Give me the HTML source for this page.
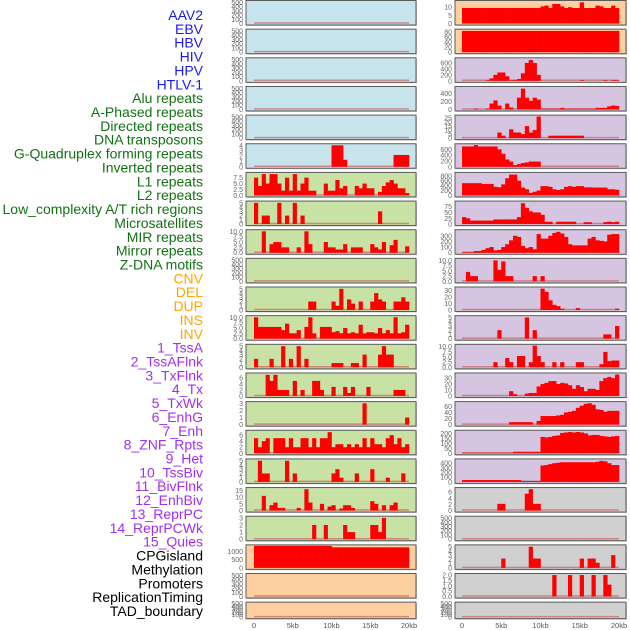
<!DOCTYPE html>
<html><head><meta charset="utf-8">
<style>
html,body{margin:0;padding:0;background:#fff;}
svg{display:block;font-family:"Liberation Sans",sans-serif;}
</style></head>
<body>
<svg id="chart" width="630" height="630" viewBox="0 0 630 630" xmlns="http://www.w3.org/2000/svg">
<g id="labels"></g>
<g id="panels"></g>
<g id="xaxes"></g>
</svg>
<script>
// ---------- data ----------
const trackNames = ["AAV2","EBV","HBV","HIV","HPV","HTLV-1","Alu repeats","A-Phased repeats","Directed repeats","DNA transposons","G-Quadruplex forming repeats","Inverted repeats","L1 repeats","L2 repeats","Low_complexity A/T rich regions","Microsatellites","MIR repeats","Mirror repeats","Z-DNA motifs","CNV","DEL","DUP","INS","INV","1_TssA","2_TssAFlnk","3_TxFlnk","4_Tx","5_TxWk","6_EnhG","7_Enh","8_ZNF_Rpts","9_Het","10_TssBiv","11_BivFlnk","12_EnhBiv","13_ReprPC","14_ReprPCWk","15_Quies","CPGisland","Methylation","Promoters","ReplicationTiming","TAD_boundary"];
const trackGroups = ["v","v","v","v","v","v","r","r","r","r","r","r","r","r","r","r","r","r","r","s","s","s","s","s","c","c","c","c","c","c","c","c","c","c","c","c","c","c","c","o","o","o","o","o"];
const xTickValues = [0,5,10,15,20];
const xTickLabels = ["0","5kb","10kb","15kb","20kb"];

const T500=["0","100","200","300","400","500"], T4=["0","1","2","3","4"], T75=["0.0","2.5","5.0","7.5"],
T5=["0","1","2","3","4","5"], T10=["0.0","2.5","5.0","7.5","10.0"], T7=["0","2","4","6"], T3=["0","1","2","3"],
T15=["0","5","10","15"], T1000=["0","500","1000"], T12=["0","5","10"], T80=["0","20","40","60","80"],
T600=["0","200","400","600"], T400=["0","200","400"], T25=["0","5","10","15","20","25"], T800=["0","200","400","600","800"],
T75b=["0","25","50","75"], T300=["0","100","200","300"], T30=["0","10","20","30"], T60=["0","20","40","60"],
T200=["0","50","100","150","200"], T400b=["0","100","200","300","400"], T2=["0.0","0.5","1.0","1.5","2.0"];

// left column panels (22 rows)
const leftBg = ["b","b","b","b","b","b","g","g","g","g","g","g","g","g","g","g","g","g","g","o","o","o"];
const leftMax = [520,520,520,520,520,4.1,9.3,5.2,10.3,520,5.2,10.3,5.2,7.3,3.1,7.3,5.2,16.5,3.1,1330,520,520];
const leftTicks = [T500,T500,T500,T500,T500,T4,T75,T5,T10,T500,T5,T10,T5,T7,T3,T7,T5,T15,T3,T1000,T500,T500];
const leftBins = [
 [],[],[],[],[],
 [[20,4],[21,4],[22,4],[23,1.3],[36,2.2],[37,2.2],[38,2.2],[39,2.2]],
 [7.5,4,9,5,9,9,5,2,7.5,2,9,2,5,7.5,2,2,0,0,5,2,2,6.5,3,4,0,0,4,3,5,3,3,0,1.5,4,5.5,6.5,5,3,3,1],
 [[0,5],[2,2],[3,2],[6,5],[8,2],[10,5],[12,2],[32,3]],
 [[2,10],[4,4],[5,5],[6,5],[7,2.5],[8,2.5],[11,2.5],[13,10],[14,4],[18,5],[19,2.5],[20,2.5],[21,1.5],[22,1.5],[23,4],[25,2.5],[26,2.5],[27,2.5],[30,4],[31,2.5],[32,1.5],[33,5],[35,3.5],[36,6],[39,3]],
 [],
 [[14,2],[15,2],[20,2],[21,1],[22,5],[24,2.5],[25,1.5],[27,2],[30,2],[31,4],[32,2.5],[33,2],[36,2],[37,2],[38,3],[39,2]],
 [10,5.5,5.5,5.5,5.5,5.5,5.5,4,7,2.5,2.5,4,0,5.5,10,2.5,0,5.5,5.5,5.5,3,3.5,2.5,5,2.5,3,2.5,6.5,2.5,3,3,2.5,5,2.5,4,2.5,10,2.5,3,6.5],
 [[0,2],[4,2],[7,5],[9,2],[11,5],[13,2],[20,1],[21,1],[22,1],[25,1],[26,1],[28,3],[32,3],[33,5],[34,3],[35,3]],
 [[3,7],[4,5],[5,7],[6,2],[7,2],[8,2],[10,5],[12,2],[15,5],[16,5],[17,2],[20,3],[23,3],[24,1],[25,3],[29,3],[36,2],[37,2],[38,2]],
 [[28,3],[39,1]],
 [5,2,4,5,0,5,5,5,2,5,2,2,5,5,2,5,2,5,5,7,2,3,3,2,3,2,3,2,5,2,5,3,3,2,5,6,3,5,2,3],
 [[1,5],[2,2],[3,2],[8,5],[10,2],[20,2],[21,3],[22,1],[26,2],[30,3],[34,1],[38,2]],
 [[2,11],[4,4],[5,6],[6,2],[7,2],[11,2],[13,16],[14,6],[17,5],[19,3],[20,4],[22,1.5],[23,4],[24,4],[25,2],[30,7],[31,5],[33,4],[35,4],[36,6]],
 [[15,2],[18,2],[23,2],[24,1],[25,1],[30,2],[31,2],[32,1],[33,3]],
 [1330,1330,1330,1330,1330,1330,1330,1330,1330,1330,1330,1330,1330,1330,1330,1330,1330,1330,1330,1330,1240,1240,1240,1240,1240,1240,1240,1240,1240,1240,1240,1240,1240,1240,1240,1240,1240,1240,1240,1240],
 [],[]
];

// right column panels (22 rows)
const rightBg = ["o","o","p","p","p","p","p","p","p","p","p","p","p","p","p","p","p","g2","g2","g2","g2","g2"];
const rightMax = [13.5,88,740,560,27.5,760,900,95,390,10.5,34,5.2,10.7,37,72,222,470,7.2,520,5.2,2.05,520];
const rightTicks = [T12,T80,T600,T400,T25,T600,T800,T75b,T300,T10,T30,T5,T10,T30,T60,T200,T400b,T7,T500,T5,T2,T500];
const rightBins = [
 [9.5,9.5,9.5,9.5,9.5,9.5,9.5,9.5,9.5,9.5,9.5,9.5,9.5,9.5,9.5,9.5,9.5,9.5,9.5,9.5,10.5,11,9.5,12,12,10.5,9.5,10,9.5,9.5,13,9.5,9.5,9.5,11,10.5,9.5,9.5,11,9.5],
 [85,85,85,85,85,85,85,85,85,85,85,85,85,85,85,85,85,85,85,85,85,85,85,85,85,85,85,85,85,85,85,85,85,85,85,85,85,85,85,85],
 [[6,20],[7,80],[8,200],[9,280],[10,280],[11,150],[12,20],[13,30],[14,60],[15,250],[16,600],[17,700],[18,600],[19,200],[30,20],[36,20],[38,20],[39,20]],
 [0,0,0,20,0,0,20,150,230,100,0,150,50,0,300,530,300,220,300,250,20,20,20,20,20,40,20,20,20,20,20,20,20,20,40,40,40,80,100,90],
 [[9,7],[10,3],[12,11],[13,7],[14,7],[15,5],[16,15],[17,7],[18,10],[19,27],[22,3],[23,3],[24,3],[25,3],[26,3],[27,3],[28,3],[29,3],[30,3]],
 [700,700,700,750,700,700,700,700,700,600,450,250,180,60,90,130,150,180,180,180,0,0,0,0,0,0,0,0,0,0,0,0,0,0,0,0,0,0,0,0],
 [500,500,500,500,500,470,470,470,350,330,450,700,850,850,600,320,250,100,150,200,380,380,350,250,220,250,350,380,350,380,380,330,330,320,320,320,320,250,250,230],
 [30,25,15,15,15,15,15,15,20,20,20,20,20,20,30,90,70,55,50,50,40,10,10,0,10,10,10,10,10,0,0,8,8,0,0,0,8,10,8,10],
 [10,10,10,30,30,50,80,100,40,50,100,150,220,300,280,120,80,100,60,330,250,250,300,350,370,340,280,150,130,130,130,130,250,280,220,210,200,320,330,330],
 [[1,4.5],[2,2.5],[3,2.5],[8,10],[9,5.5],[10,9.5],[11,2.5],[12,2.5],[18,2.5],[20,2.5]],
 [[20,33],[21,28],[22,15],[23,8],[24,6],[25,2],[29,3],[39,2]],
 [[9,2],[16,5],[18,2],[36,1],[37,1],[39,3]],
 [[8,2.5],[11,4.5],[12,2.5],[14,5.5],[15,5.5],[17,2.5],[18,10.5],[19,5.5],[20,2.5],[23,2.5],[25,2.5],[29,2.5],[30,2.5],[35,1.5],[36,7.5],[37,3],[38,3.3],[39,3.3]],
 [0,0,0,0,0,0,0,0,0,0,0,0,8,3,0,0,4,5,5,16,20,22,25,25,20,22,21,18,12,18,15,8,12,12,10,25,30,32,30,36],
 [0,0,0,0,0,0,0,0,0,0,0,0,8,8,8,8,8,8,0,12,28,28,28,28,30,32,40,42,45,55,62,68,70,65,50,48,42,45,45,45],
 [5,5,5,5,5,5,5,5,5,5,5,5,5,15,15,15,15,15,15,15,165,160,165,175,180,205,210,215,210,215,210,200,180,185,185,175,170,165,170,175],
 [40,40,40,40,40,40,40,40,40,40,40,40,40,40,40,20,20,20,20,20,350,360,380,400,410,420,420,420,420,420,420,420,420,420,430,450,440,400,360,360],
 [[9,2.2],[10,2.2],[16,5.5],[17,7],[18,2.2],[19,2.2]],
 [],
 [[10,2.2],[17,5],[18,2.2],[19,2.2],[30,2.2],[32,2.2],[33,2.2],[34,1.2],[38,3]],
 [[23,2],[27,2],[30,2],[33,2],[36,2],[37,1.1]],
 []
];

// ---------- layout ----------
const NS="http://www.w3.org/2000/svg";
const bgColors={b:"#c7e4ec",g:"#c8e1a5",o:"#fed0a0",p:"#d5c5e1",g2:"#d0d0d0"};
const groupColors={v:"#1a1aee",r:"#127212",s:"#ffa500",c:"#a030ee",o:"#000000"};
const ROW0=0.5, PITCH=28.65, PH=24.5, LASTH=16.5;
const cols=[{bx:246,bw:170,x0:254,x1:409,tickX:243},{bx:455,bw:171,x0:462,x1:619,tickX:452}];
const BINKB=0.5, XMAXKB=20;
function el(tag,attrs,parent){const e=document.createElementNS(NS,tag);for(const k in attrs)e.setAttribute(k,attrs[k]);parent.appendChild(e);return e;}
function xScale(col,kb){return col.x0+(col.x1-col.x0)*kb/XMAXKB;}

const labelsG=document.getElementById('labels');
trackNames.forEach((n,i)=>{
  const t=el('text',{x:203,y:20+13.86*i,'text-anchor':'end','font-size':'14',fill:groupColors[trackGroups[i]]},labelsG);
  
  
  t.textContent=n;
});

const panelsG=document.getElementById('panels');
function drawPanel(col,row,bg,maxV,ticks,bins){
  const top=ROW0+PITCH*row, h=(row===21?LASTH:PH), bottom=top+h;
  const g=el('g',{},panelsG);
  
  
  el('rect',{x:col.bx+1,y:top+1,width:col.bw,height:h,fill:'#999',opacity:0.5},g);
  const r=el('rect',{x:col.bx,y:top,width:col.bw,height:h,fill:bgColors[bg],stroke:'#5a5a5a','stroke-width':1},g);
  
  
  const y0=bottom-1.5, yT=top+1;
  const yScale=v=>y0-(y0-yT)*Math.min(v,maxV)/maxV;
  // baseline
  el('line',{x1:xScale(col,0),x2:xScale(col,20),y1:y0-0.5,y2:y0-0.5,stroke:'#c86464','stroke-width':1.5,opacity:0.7},g);
  // bars
  const pairs = (bins.length && Array.isArray(bins[0])) ? bins : bins.map((v,i)=>[i,v]);
  pairs.forEach(([b,v])=>{
    if(!v)return;
    const xa=xScale(col,b*BINKB), xb=xScale(col,(b+1)*BINKB);
    const bar=el('rect',{x:xa,y:yScale(v),width:xb-xa+0.3,height:y0-yScale(v),fill:'#ff0000'},g);
    
    
  });
  // y ticks
  ticks.forEach(lbl=>{
    const v=parseFloat(lbl);
    const t=el('text',{x:col.tickX,y:yScale(v)+2.5,'text-anchor':'end','font-size':'7',fill:'#666'},g);
    
    
    t.textContent=lbl;
  });
}
for(let r=0;r<22;r++){
  drawPanel(cols[0],r,leftBg[r],leftMax[r],leftTicks[r],leftBins[r]);
  drawPanel(cols[1],r,rightBg[r],rightMax[r],rightTicks[r],rightBins[r]);
}

const xG=document.getElementById('xaxes');
cols.forEach(col=>{
  xTickValues.forEach((v,i)=>{
    const t=el('text',{x:xScale(col,v),y:628,'text-anchor':'middle','font-size':'7.5',fill:'#555'},xG);
    
    
    t.textContent=xTickLabels[i];
  });
});
</script>
</body></html>
